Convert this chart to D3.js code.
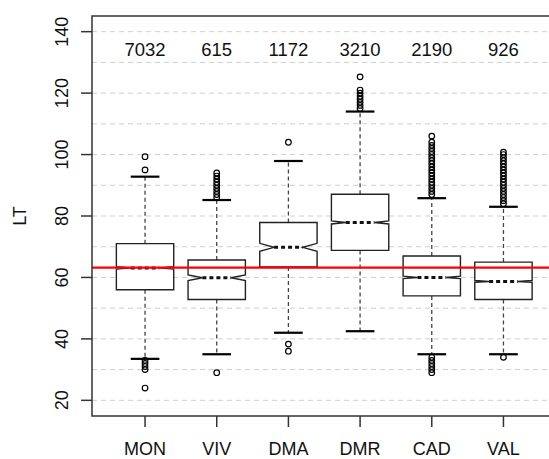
<!DOCTYPE html>
<html>
<head>
<meta charset="utf-8">
<script src="https://cdn.jsdelivr.net/npm/d3@7"></script>
<style>
  body { margin: 0; background: #fff; }
  svg { display: block; font-family: "Liberation Sans", Arial, sans-serif; }
</style>
</head>
<body>
<svg></svg>
<script>
// values
let categories = ["MON", "VIV", "DMA", "DMR", "CAD", "VAL"]
let counts = [7032, 615, 1172, 3210, 2190, 926]
let lowWhisker = [33.5, 35, 42, 42.5, 35, 35]
let q1 = [56, 52.8, 63.4, 68.8, 54, 52.8]
let medians = [63.1, 59.9, 69.8, 77.9, 60, 58.7]
let q3 = [71, 65.7, 77.9, 87.1, 67, 65]
let highWhisker = [92.8, 85.2, 97.9, 114, 85.8, 83]
let notchHalf = [0.4, 0.9, 1.3, 0.5, 0.4, 0.3]
let outliers = [
  [95, 99.3, 33, 32, 31, 30, 24],
  [86, 87, 88, 89, 90, 91, 92, 93, 94, 29],
  [104, 38.3, 36],
  [115, 116, 117, 118, 119, 120, 121, 125.3],
  [87, 88, 89, 90, 91, 92, 93, 94, 95, 96, 97, 98, 99, 100, 101, 102, 103, 104, 106, 29, 30, 31, 32, 33, 34],
  [84, 85, 86, 87, 88, 89, 90, 91, 92, 93, 94, 95, 96, 97, 98, 99, 100, 100.8, 34]
]
let refLine = 63.2
let yTicks = [20, 40, 60, 80, 100, 120, 140]
let gridLines = [20, 30, 40, 50, 60, 70, 80, 90, 100, 110, 120, 130, 140]
let countY = 134.3

let width = 549
let height = 459
let plotLeft = 92
let plotTop = 16
let plotBottom = 416

let svg = d3.select("svg")
  .attr("width", width)
  .attr("height", height)

// R style: box positions 1..6, xlim [0.5, 6.5] widened by 4%
let xScale = d3.scaleLinear()
  .domain([0.26, 6.74])
  .range([plotLeft, 556.5])

let yScale = d3.scaleLinear()
  .domain([14.9, 145.1])
  .range([plotBottom, plotTop])

let wid = 0.4

// grid
svg.append("g")
  .selectAll("line")
  .data(gridLines)
  .enter()
  .append("line")
  .attr("x1", plotLeft)
  .attr("x2", width)
  .attr("y1", d => yScale(d))
  .attr("y2", d => yScale(d))
  .attr("stroke", "#cfcfcf")
  .attr("stroke-width", 1)
  .attr("stroke-dasharray", "5,4")

// boxes
let boxes = svg.append("g")

categories.forEach((c, i) => {
  let p = i + 1
  let g = boxes.append("g")

  // whiskers
  g.append("line")
    .attr("x1", xScale(p)).attr("x2", xScale(p))
    .attr("y1", yScale(q3[i])).attr("y2", yScale(highWhisker[i]))
    .attr("stroke", "#444").attr("stroke-width", 1.3)
    .attr("stroke-dasharray", "4,3")
  g.append("line")
    .attr("x1", xScale(p)).attr("x2", xScale(p))
    .attr("y1", yScale(q1[i])).attr("y2", yScale(lowWhisker[i]))
    .attr("stroke", "#444").attr("stroke-width", 1.3)
    .attr("stroke-dasharray", "4,3")

  // staples
  ;[lowWhisker[i], highWhisker[i]].forEach(v => {
    g.append("line")
      .attr("x1", xScale(p - wid / 2)).attr("x2", xScale(p + wid / 2))
      .attr("y1", yScale(v)).attr("y2", yScale(v))
      .attr("stroke", "#000").attr("stroke-width", 2.2)
  })

  // notched box, same point order as R's bxp
  let lo = medians[i] - notchHalf[i]
  let hi = medians[i] + notchHalf[i]
  let xs = [-1, 1, 1, 0.5, 1, 1, -1, -1, -0.5, -1]
  let ys = [q1[i], q1[i], lo, medians[i], hi, q3[i], q3[i], hi, medians[i], lo]
  let pts = xs.map((x, k) => [xScale(p + x * wid), yScale(ys[k])])
  g.append("polygon")
    .attr("points", pts.map(d => d.join(",")).join(" "))
    .attr("fill", "#fff")
    .attr("stroke", "#222")
    .attr("stroke-width", 1.4)

  // median
  g.append("line")
    .attr("x1", xScale(p - wid / 2)).attr("x2", xScale(p + wid / 2))
    .attr("y1", yScale(medians[i])).attr("y2", yScale(medians[i]))
    .attr("stroke", "#111").attr("stroke-width", 3)
    .attr("stroke-dasharray", "4,3")

  // outliers
  g.selectAll("circle")
    .data(outliers[i])
    .enter()
    .append("circle")
    .attr("cx", xScale(p))
    .attr("cy", d => yScale(d))
    .attr("r", 2.8)
    .attr("fill", "none")
    .attr("stroke", "#000")
    .attr("stroke-width", 1.2)
})

// counts
svg.append("g")
  .selectAll("text")
  .data(counts)
  .enter()
  .append("text")
  .attr("x", (d, i) => xScale(i + 1))
  .attr("y", yScale(countY))
  .attr("dy", "0.36em")
  .attr("text-anchor", "middle")
  .style("font-size", "18.5px")
  .attr("fill", "#111")
  .text(d => d)

// reference line
svg.append("line")
  .attr("x1", plotLeft).attr("x2", width)
  .attr("y1", yScale(refLine)).attr("y2", yScale(refLine))
  .attr("stroke", "#ff0000")
  .attr("stroke-width", 2.2)

// frame (right side falls off the canvas)
svg.append("rect")
  .attr("x", plotLeft).attr("y", plotTop)
  .attr("width", xScale(6.74) - plotLeft).attr("height", plotBottom - plotTop)
  .attr("fill", "none")
  .attr("stroke", "#333")
  .attr("stroke-width", 1.5)

// y axis
let yAxis = svg.append("g")
yAxis.selectAll("line")
  .data(yTicks)
  .enter()
  .append("line")
  .attr("x1", plotLeft - 11).attr("x2", plotLeft)
  .attr("y1", d => yScale(d)).attr("y2", d => yScale(d))
  .attr("stroke", "#333").attr("stroke-width", 1.5)
yAxis.selectAll("text")
  .data(yTicks)
  .enter()
  .append("text")
  .attr("transform", d => `translate(62, ${yScale(d)}) rotate(-90)`)
  .attr("dy", "0.36em")
  .attr("text-anchor", "middle")
  .style("font-size", "18px")
  .attr("fill", "#111")
  .text(d => d)

// x axis
let xAxis = svg.append("g")
xAxis.selectAll("line")
  .data(categories)
  .enter()
  .append("line")
  .attr("x1", (d, i) => xScale(i + 1)).attr("x2", (d, i) => xScale(i + 1))
  .attr("y1", plotBottom).attr("y2", plotBottom + 11)
  .attr("stroke", "#333").attr("stroke-width", 1.5)
xAxis.selectAll("text")
  .data(categories)
  .enter()
  .append("text")
  .attr("x", (d, i) => xScale(i + 1))
  .attr("y", 455)
  .attr("text-anchor", "middle")
  .style("font-size", "18px")
  .attr("fill", "#111")
  .text(d => d)

svg.append("text")
  .attr("transform", `translate(19.5, ${(plotTop + plotBottom) / 2}) rotate(-90)`)
  .attr("dy", "0.36em")
  .attr("text-anchor", "middle")
  .style("font-size", "18px")
  .attr("fill", "#111")
  .text("LT")
</script>
</body>
</html>
